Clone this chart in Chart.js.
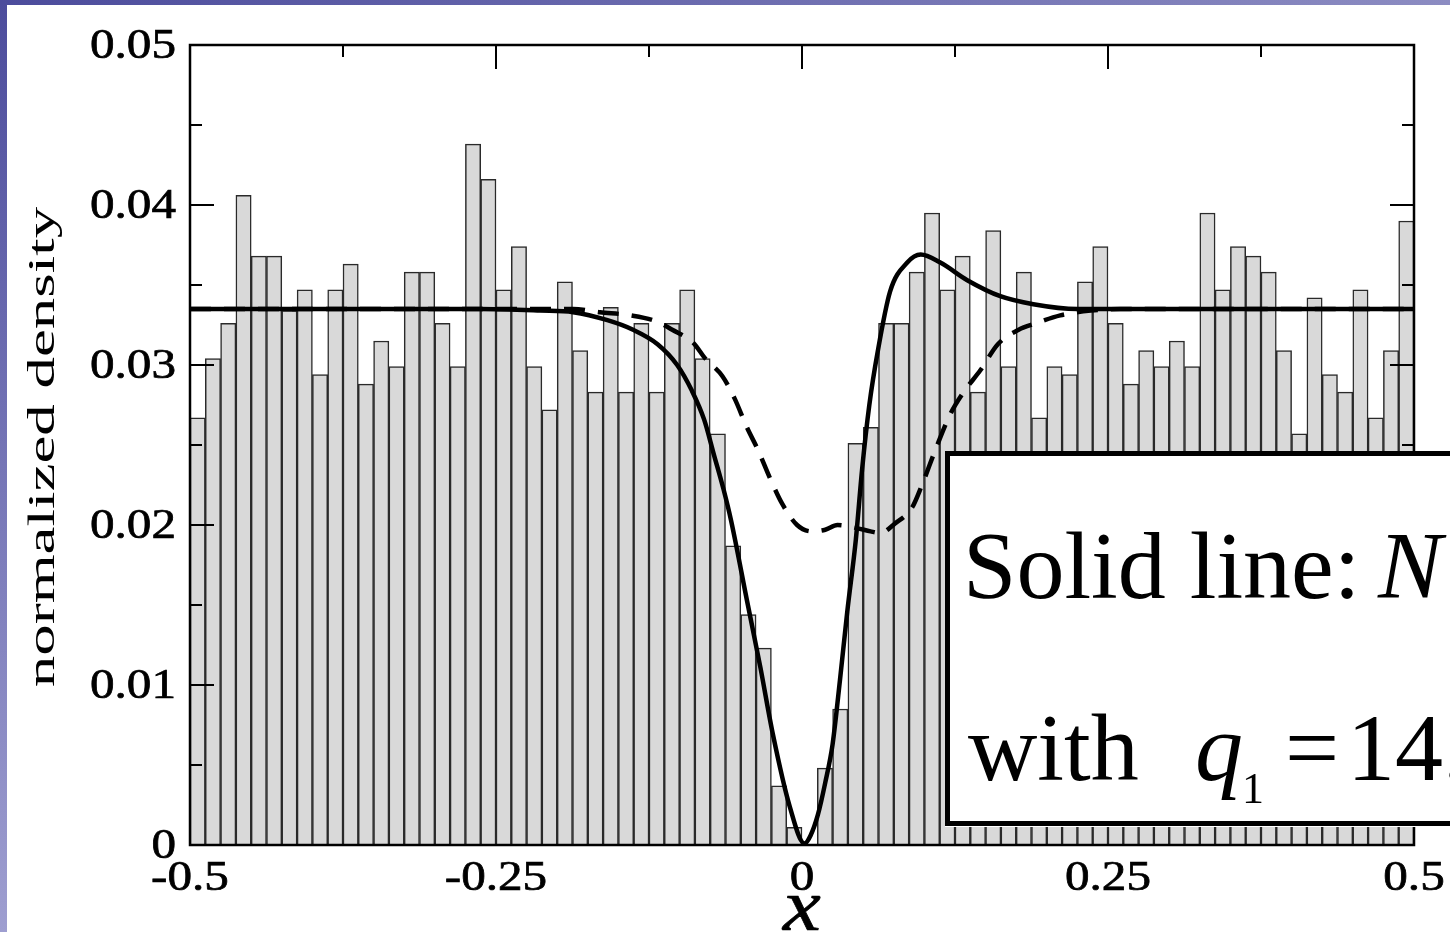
<!DOCTYPE html>
<html>
<head>
<meta charset="utf-8">
<title>normalized density</title>
<script src="https://cdn.jsdelivr.net/npm/chart.js@4.4.1/dist/chart.umd.min.js"></script>
<style>
    html, body { margin: 0; padding: 0; overflow: hidden; }
    body { width: 1450px; height: 932px; position: relative; background: #ffffff; }
    #strip-left { position: absolute; left: 0; top: 0; width: 7px; height: 932px; background: linear-gradient(to bottom, #4c4c9c, #9e9ed0); }
    #strip-top { position: absolute; left: 0; top: 0; width: 1450px; height: 5px; background: linear-gradient(to right, #4c4c9c, #8c8cc2); }
    #chart { position: absolute; left: 0; top: 0; }
</style>
</head>
<body>
<div id="strip-left"></div>
<div id="strip-top"></div>
<canvas id="chart" width="1450" height="932"></canvas>
<script>
// Histogram: 80 bins of width 0.0125 on [-0.5, 0.5]
const binWidth = 0.0125;
const density = [
    0.0267, 0.0304, 0.0326, 0.0406, 0.0368, 0.0368, 0.0334, 0.0347, 0.0294, 0.0347,
    0.0363, 0.0288, 0.0315, 0.0299, 0.0358, 0.0358, 0.0326, 0.0299, 0.0438, 0.0416,
    0.0347, 0.0374, 0.0299, 0.0272, 0.0352, 0.0309, 0.0283, 0.0336, 0.0283, 0.0326,
    0.0283, 0.0326, 0.0347, 0.0304, 0.0257, 0.0187, 0.0144, 0.0123, 0.0037, 0.0011,
    0.0000, 0.0048, 0.0085, 0.0251, 0.0261, 0.0326, 0.0326, 0.0358, 0.0395, 0.0347,
    0.0368, 0.0283, 0.0384, 0.0299, 0.0358, 0.0267, 0.0299, 0.0294, 0.0352, 0.0374,
    0.0326, 0.0288, 0.0309, 0.0299, 0.0315, 0.0299, 0.0395, 0.0347, 0.0374, 0.0368,
    0.0358, 0.0309, 0.0257, 0.0342, 0.0294, 0.0283, 0.0347, 0.0267, 0.0309, 0.0390
];
const binCenters = density.map((_, i) => -0.5 + (i + 0.5) * binWidth);

// Solid curve
const solidX = [-0.5, -0.263, -0.214, -0.187, -0.159, -0.138, -0.118, -0.102, -0.090, -0.080,
    -0.072, -0.064, -0.058, -0.045, -0.034, -0.024, -0.010, 0.002, 0.007, 0.013,
    0.019, 0.025, 0.031, 0.037, 0.044, 0.049, 0.055, 0.062, 0.072, 0.086,
    0.097, 0.113, 0.135, 0.162, 0.189, 0.225, 0.5];
const solidY = [0.0335, 0.0335, 0.0334, 0.0333, 0.0328, 0.0322, 0.0313, 0.0300, 0.0284, 0.0266,
    0.0244, 0.0222, 0.0203, 0.0153, 0.0111, 0.0070, 0.0024, 0.0001, 0.0006, 0.0019,
    0.0039, 0.0063, 0.0103, 0.0146, 0.0191, 0.0234, 0.0275, 0.0309, 0.0346, 0.0364,
    0.0369, 0.0364, 0.0353, 0.0343, 0.0338, 0.0335, 0.0335];

// Dashed curve
const dashX = [-0.5, -0.187, -0.165, -0.140, -0.118, -0.106, -0.089, -0.079, -0.065, -0.055,
    -0.045, -0.036, -0.026, -0.016, -0.004, 0.008, 0.019, 0.029, 0.045, 0.056,
    0.064, 0.076, 0.090, 0.098, 0.109, 0.121, 0.132, 0.146, 0.160, 0.177,
    0.191, 0.211, 0.236, 0.260, 0.5];
const dashY = [0.0335, 0.0335, 0.0333, 0.0331, 0.0327, 0.0322, 0.0314, 0.0304, 0.0293, 0.0279,
    0.0261, 0.0247, 0.0229, 0.0213, 0.0200, 0.0196, 0.0197, 0.0200, 0.0198, 0.0196,
    0.0195, 0.0201, 0.0211, 0.0225, 0.0247, 0.0269, 0.0283, 0.0297, 0.0313, 0.0322,
    0.0326, 0.0331, 0.0334, 0.0335, 0.0335];

// Ticks
const yTicks = [0, 0.01, 0.02, 0.03, 0.04, 0.05];
const yTickLabels = ['0', '0.01', '0.02', '0.03', '0.04', '0.05'];
const yMinorTicks = [0.005, 0.015, 0.025, 0.035, 0.045];
const xTicks = [-0.5, -0.25, 0, 0.25, 0.5];
const xTickLabels = ['-0.5', '-0.25', '0', '0.25', '0.5'];
const xMinorTicks = [-0.375, -0.125, 0.125, 0.375];

const serif = '"Liberation Serif", "Times New Roman", serif';

function stretchedText(ctx, str, x, y, sx, font, align, baseline) {
    ctx.save();
    ctx.translate(x, y);
    ctx.scale(sx, 1);
    ctx.font = font;
    ctx.textAlign = align;
    ctx.textBaseline = baseline;
    ctx.fillText(str, 0, 0);
    ctx.lineWidth = 0.7;
    ctx.strokeText(str, 0, 0);
    ctx.restore();
}

// Frame, inward ticks, axis texts and the text box on top
const framePlugin = {
    id: 'frame',
    afterDraw(chart) {
        const ctx = chart.ctx;
        const { left, right, top, bottom } = chart.chartArea;
        const xs = chart.scales.x;
        const ys = chart.scales.y;

        ctx.save();
        ctx.strokeStyle = '#000';
        ctx.lineWidth = 2.5;
        ctx.strokeRect(left, top, right - left, bottom - top);

        ctx.lineWidth = 2;
        ctx.beginPath();
        yTicks.forEach(v => {
            const py = ys.getPixelForValue(v);
            ctx.moveTo(left, py); ctx.lineTo(left + 24, py);
            ctx.moveTo(right, py); ctx.lineTo(right - 24, py);
        });
        yMinorTicks.forEach(v => {
            const py = ys.getPixelForValue(v);
            ctx.moveTo(left, py); ctx.lineTo(left + 12, py);
            ctx.moveTo(right, py); ctx.lineTo(right - 12, py);
        });
        xTicks.forEach(v => {
            const px = xs.getPixelForValue(v);
            ctx.moveTo(px, top); ctx.lineTo(px, top + 24);
        });
        xMinorTicks.forEach(v => {
            const px = xs.getPixelForValue(v);
            ctx.moveTo(px, top); ctx.lineTo(px, top + 12);
        });
        ctx.stroke();

        // tick labels
        ctx.fillStyle = '#000';
        yTicks.forEach((v, i) => {
            stretchedText(ctx, yTickLabels[i], left - 14, ys.getPixelForValue(v) + 2, 1.17, '42px ' + serif, 'right', 'middle');
        });
        xTicks.forEach((v, i) => {
            stretchedText(ctx, xTickLabels[i], xs.getPixelForValue(v), bottom + 45, 1.17, '42px ' + serif, 'center', 'alphabetic');
        });

        // axis titles
        stretchedText(ctx, 'x', xs.getPixelForValue(0), 930, 1.15, 'italic 74px ' + serif, 'center', 'alphabetic');
        ctx.save();
        ctx.translate(54, 447);
        ctx.rotate(-Math.PI / 2);
        ctx.scale(1.7, 1);
        ctx.font = '37px ' + serif;
        ctx.textAlign = 'center';
        ctx.textBaseline = 'alphabetic';
        ctx.fillText('normalized density', 0, 0);
        ctx.restore();

        // text box
        ctx.fillStyle = '#fff';
        ctx.fillRect(945, 451, 520, 376);
        ctx.lineWidth = 5;
        ctx.strokeRect(947.5, 453.5, 520, 370);
        ctx.fillStyle = '#000';
        ctx.textAlign = 'left';
        ctx.textBaseline = 'alphabetic';
        ctx.font = '96px ' + serif;
        ctx.fillText('Solid line:', 963, 598);
        ctx.font = 'italic 96px ' + serif;
        ctx.fillText('N', 1378, 598);
        ctx.font = '96px ' + serif;
        ctx.fillText('with', 968, 780);
        ctx.font = 'italic 96px ' + serif;
        ctx.fillText('q', 1195, 780);
        ctx.font = '44px ' + serif;
        ctx.fillText('1', 1242, 803);
        ctx.font = '96px ' + serif;
        ctx.fillText('=', 1285, 780);
        ctx.fillText('14.', 1347, 780);
        ctx.restore();
    }
};

const chart = new Chart(document.getElementById('chart'), {
    type: 'bar',
    data: {
        datasets: [
            {
                type: 'line',
                label: 'Solid line',
                data: solidX.map((x, i) => ({ x: x, y: solidY[i] })),
                borderColor: '#000',
                borderWidth: 4.5,
                pointRadius: 0,
                cubicInterpolationMode: 'monotone',
                order: 0
            },
            {
                type: 'line',
                label: 'Dashed line',
                data: dashX.map((x, i) => ({ x: x, y: dashY[i] })),
                borderColor: '#000',
                borderWidth: 4.5,
                borderDash: [21, 13],
                pointRadius: 0,
                cubicInterpolationMode: 'monotone',
                order: 0
            },
            {
                type: 'bar',
                label: 'Histogram',
                data: binCenters.map((x, i) => ({ x: x, y: density[i] })),
                backgroundColor: '#d9d9d9',
                borderColor: '#2a2a2a',
                borderWidth: 1.5,
                barPercentage: 1,
                categoryPercentage: 1,
                order: 1
            }
        ]
    },
    options: {
        responsive: false,
        animation: false,
        layout: { padding: { left: 190, right: 36, top: 45, bottom: 87 } },
        plugins: {
            legend: { display: false },
            tooltip: { enabled: false }
        },
        scales: {
            x: { type: 'linear', min: -0.5, max: 0.5, offset: false, display: false },
            y: { type: 'linear', min: 0, max: 0.05, display: false }
        }
    },
    plugins: [framePlugin]
});
</script>
</body>
</html>
